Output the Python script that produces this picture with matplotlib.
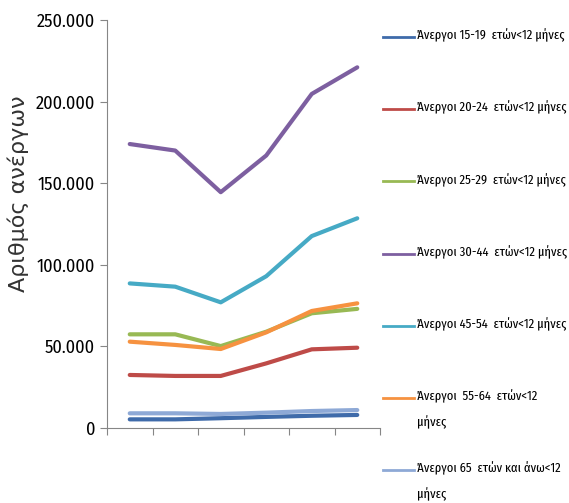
import numpy as np
import matplotlib.pyplot as plt
from matplotlib.lines import Line2D
from matplotlib.ticker import FuncFormatter

# periods are not labelled in the chart
periods = ['1', '2', '3', '4', '5', '6']

names = ['Άνεργοι 15-19  ετών<12 μήνες',
         'Άνεργοι 20-24  ετών<12 μήνες',
         'Άνεργοι 25-29  ετών<12 μήνες',
         'Άνεργοι 30-44  ετών<12 μήνες',
         'Άνεργοι 45-54  ετών<12 μήνες',
         'Άνεργοι  55-64  ετών<12\nμήνες',
         'Άνεργοι 65  ετών και άνω<12\nμήνες']

a15_19 = [5300, 5300, 6000, 6800, 7500, 8000]
a20_24 = [32500, 31900, 31900, 39600, 48200, 49200]
a25_29 = [57400, 57400, 50200, 59000, 70300, 73000]
a30_44 = [174000, 170000, 144500, 167000, 204700, 221000]
a45_54 = [88600, 86600, 77000, 93000, 117600, 128500]
a55_64 = [52900, 50900, 48400, 58600, 71700, 76400]
a65 = [9000, 9000, 8600, 9400, 10400, 11000]

series = [a15_19, a20_24, a25_29, a30_44, a45_54, a55_64, a65]
colors = ['#3F6BAA', '#BE4B48', '#98B954', '#7D5FA0', '#46AAC5', '#F69240', '#8EA9D6']

fnt = ['Fira Sans Condensed', 'Roboto Condensed', 'Noto Sans', 'DejaVu Sans']
fnt_leg = ['Fira Sans Extra Condensed', 'Fira Sans Condensed', 'Noto Sans', 'DejaVu Sans']

fig = plt.figure(figsize=(5.69, 5.03), dpi=100)
ax = fig.add_axes([107/569, 1-428/503, (380-107)/569, (428-20)/503])

for vals, c in zip(series, colors):
    ax.plot(periods, vals, color=c, linewidth=3, solid_capstyle='round')

ax.set_xlim(-0.5, 5.5)
ax.set_ylim(0, 250000)
ax.set_yticks(np.arange(0, 250001, 50000))
ax.yaxis.set_major_formatter(FuncFormatter(lambda v, p: f'{int(v):,}'.replace(',', '.')))
ax.set_xticks(np.arange(-0.5, 6, 1))
ax.set_xticklabels([])

for s in ['top', 'right']:
    ax.spines[s].set_visible(False)
for s in ['left', 'bottom']:
    ax.spines[s].set_color('#868686')
ax.tick_params(axis='both', colors='#868686', length=5, direction='out')
for lab in ax.get_yticklabels():
    lab.set_family(fnt)
    lab.set_fontsize(13.2)
    lab.set_color('black')

ax.set_ylabel('Αριθμός ανέργων', fontsize=16, family='DejaVu Sans', color='#333333')
ax.yaxis.set_label_coords(-0.285, 0.574)

# legend, one entry every ~72 px
for i, (n, c) in enumerate(zip(names, colors)):
    yy = 1 - (37 + i*72.2)/503
    fig.add_artist(Line2D([383/569, 414/569], [yy, yy], color=c, linewidth=2))
    fig.text(417/569, yy + 8.5/503, n, family=fnt_leg, fontsize=9.8, va='top', ha='left',
             linespacing=2.1)

fig.savefig('out.png', dpi=100)
